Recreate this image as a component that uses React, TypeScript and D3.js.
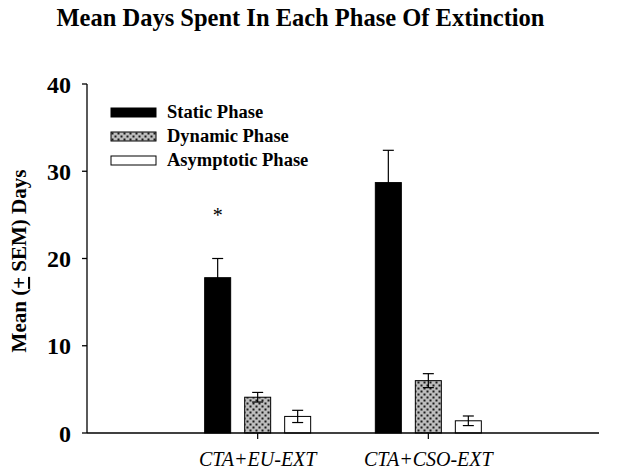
import React from "react";
import * as d3 from "d3";

const categories = ["CTA+EU-EXT", "CTA+CSO-EXT"];
const series = ["Static Phase", "Dynamic Phase", "Asymptotic Phase"];
const means = [
  [17.8, 4.1, 1.9],
  [28.7, 6.0, 1.4],
];
const sems = [
  [2.2, 0.55, 0.7],
  [3.7, 0.8, 0.55],
];
const yTicks = [0, 10, 20, 30, 40];
const significance = ["*", ""];

const W = 629;
const H = 474;
const left = 87;
const right = 599;
const top = 84;
const bottom = 433;

export default function App() {
  const y = d3.scaleLinear().domain([0, 40]).range([bottom, top]);
  const x = d3.scalePoint<string>().domain(categories).range([left, right]).padding(1);
  const inner = d3.scaleBand<string>().domain(series).range([-60, 60]).paddingInner(0.35).paddingOuter(0.175);
  const fills = ["#000000", "url(#dots)", "#ffffff"];
  const serif = "'Liberation Serif', 'Times New Roman', serif";

  return (
    <svg width={W} height={H} style={{ position: "absolute", left: 0, top: 0, background: "#fff" }} fontFamily={serif}>
      <defs>
        <pattern id="dots" width="6" height="6" patternUnits="userSpaceOnUse">
          <rect width="6" height="6" fill="#bdbdbd" />
          <rect x="0.5" y="0.5" width="2" height="2" fill="#1a1a1a" />
          <rect x="3.5" y="3.5" width="2" height="2" fill="#1a1a1a" />
        </pattern>
      </defs>
      <rect width={W} height={H} fill="#fff" />
      <text x={300.5} y={26} textAnchor="middle" fontSize={24.5} fontWeight="bold">
        Mean Days Spent In Each Phase Of Extinction
      </text>

      {/* y axis */}
      <line x1={left} x2={left} y1={top} y2={bottom} stroke="#000" strokeWidth={1.3} />
      {yTicks.map((t) => (
        <g key={t}>
          <line x1={left - 5} x2={left} y1={y(t)} y2={y(t)} stroke="#000" strokeWidth={1.3} />
          <text x={71} y={y(t)} dy="0.36em" textAnchor="end" fontSize={24} fontWeight="bold">
            {t}
          </text>
        </g>
      ))}
      <text transform={`translate(26,261) rotate(-90)`} textAnchor="middle" fontSize={21} fontWeight="bold">
        Mean (<tspan textDecoration="underline">+</tspan> SEM) Days
      </text>

      {/* bars */}
      {categories.map((c, ci) =>
        series.map((s, si) => {
          const bx = (x(c) as number) + (inner(s) as number);
          const bw = inner.bandwidth();
          const m = means[ci][si];
          const e = sems[ci][si];
          const cx = bx + bw / 2;
          return (
            <g key={c + s}>
              <rect x={bx} y={y(m)} width={bw} height={bottom - y(m)} fill={fills[si]} stroke="#000" strokeWidth={1} />
              <line x1={cx} x2={cx} y1={y(m - e)} y2={y(m + e)} stroke="#000" strokeWidth={1.2} />
              <line x1={cx - 5.5} x2={cx + 5.5} y1={y(m + e)} y2={y(m + e)} stroke="#000" strokeWidth={1.2} />
              <line x1={cx - 5.5} x2={cx + 5.5} y1={y(m - e)} y2={y(m - e)} stroke="#000" strokeWidth={1.2} />
            </g>
          );
        })
      )}

      {/* x axis */}
      <line x1={left} x2={right} y1={bottom} y2={bottom} stroke="#000" strokeWidth={1.3} />
      {categories.map((c) => (
        <g key={c}>
          <line x1={x(c)} x2={x(c)} y1={bottom} y2={bottom + 6} stroke="#000" strokeWidth={1.2} />
          <text x={x(c)} y={466} textAnchor="middle" fontSize={20} fontStyle="italic">
            {c}
          </text>
        </g>
      ))}

      {/* significance */}
      {categories.map((c, ci) =>
        significance[ci] ? (
          <text key={c} x={(x(c) as number) + (inner(series[0]) as number) + inner.bandwidth() / 2} y={222} textAnchor="middle" fontSize={20}>
            {significance[ci]}
          </text>
        ) : null
      )}

      {/* legend */}
      {series.map((s, si) => (
        <g key={s} transform={`translate(111, ${108 + si * 24})`}>
          <rect x={0} y={0} width={45} height={9} fill={fills[si]} stroke="#000" strokeWidth={1} />
          <text x={56} y={10} fontSize={18.5} fontWeight="bold">
            {s}
          </text>
        </g>
      ))}
    </svg>
  );
}
